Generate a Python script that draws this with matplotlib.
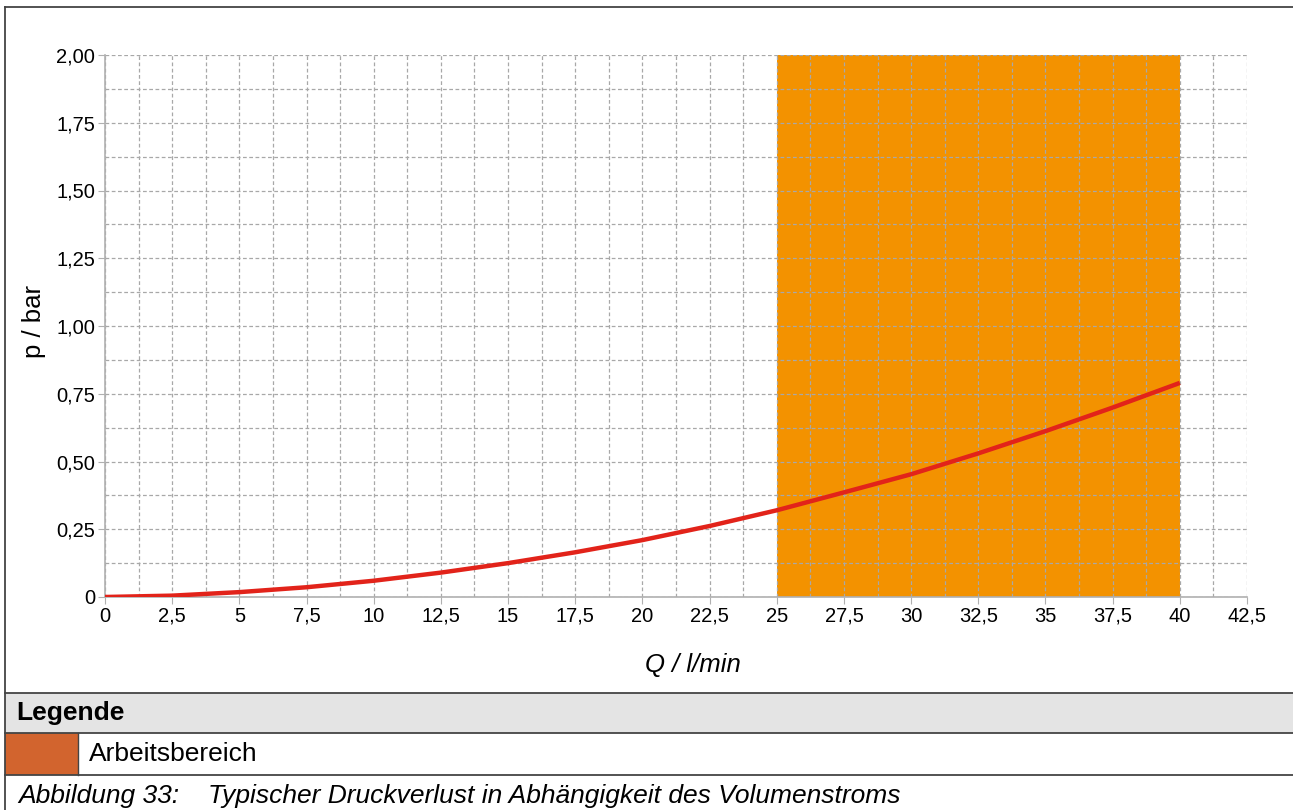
import matplotlib.pyplot as plt
import numpy as np
from matplotlib.patches import Rectangle
from matplotlib.lines import Line2D
from matplotlib.ticker import MultipleLocator, FixedLocator

plt.rcParams['font.family'] = ['Liberation Sans', 'DejaVu Sans']

###### Druckverlust-Kennlinie ######
Q = [0, 2.5, 5, 7.5, 10, 12.5, 15, 17.5, 20, 22.5, 25, 27.5, 30, 32.5, 35, 37.5, 40]
p = [0, 0.005, 0.018, 0.036, 0.06, 0.09, 0.125, 0.165, 0.21, 0.262, 0.32, 0.386,
     0.453, 0.53, 0.612, 0.699, 0.79]
arbeitsbereich = (25, 40)
xticks = [0, 2.5, 5, 7.5, 10, 12.5, 15, 17.5, 20, 22.5, 25, 27.5, 30, 32.5, 35, 37.5, 40, 42.5]
yticks = [0, 0.25, 0.5, 0.75, 1.0, 1.25, 1.5, 1.75, 2.0]

W, H = 1293, 810
fig = plt.figure(figsize=(W / 100, H / 100), dpi=100)

def fx(x):
    return x / W

def fy(y):
    return 1 - y / H

ax = fig.add_axes([fx(105), fy(597), fx(1247 - 105), (597 - 55) / H])

ax.axvspan(*arbeitsbereich, color='#F39200', lw=0, zorder=1)
ax.plot(Q, p, color='#E2231A', lw=3.2, zorder=3, solid_capstyle='butt')

ax.set_xlim(0, 42.5)
ax.set_ylim(0, 2.0)
ax.xaxis.set_major_locator(FixedLocator(xticks))
ax.yaxis.set_major_locator(FixedLocator(yticks))
ax.xaxis.set_minor_locator(MultipleLocator(1.25))
ax.yaxis.set_minor_locator(MultipleLocator(0.125))
ax.set_xticklabels([('%g' % v).replace('.', ',') for v in xticks])
ax.set_yticklabels(['0' if v == 0 else ('%.2f' % v).replace('.', ',') for v in yticks])

ax.set_axisbelow('line')
ax.grid(which='both', color='#a8a8a8', lw=0.9, linestyle=(0, (3, 2)))
for s in ['top', 'right']:
    ax.spines[s].set_visible(False)
for s in ['left', 'bottom']:
    ax.spines[s].set_color('#b0b0b0')
    ax.spines[s].set_linewidth(1.2)
ax.tick_params(which='major', length=5, color='#b0b0b0', labelsize=14.5, pad=2)
ax.tick_params(which='minor', length=0)

fig.text(fx(34), fy(322), 'p / bar', rotation=90, ha='center', va='center', fontsize=18.5)
fig.text(fx(693), fy(665), 'Q / l/min', style='italic', ha='center', va='center', fontsize=18.5)

###### Rahmen, Legende, Bildunterschrift ######
fig.add_artist(Rectangle((fx(5), fy(733)), 1, (733 - 693) / H, transform=fig.transFigure,
                         facecolor='#E4E4E4', edgecolor='none'))
fig.add_artist(Rectangle((fx(5), fy(775)), fx(78 - 5), (775 - 733) / H, transform=fig.transFigure,
                         facecolor='#D2642E', edgecolor='none'))
for y in [7, 693, 733, 775]:
    fig.add_artist(Line2D([fx(5), 1], [fy(y), fy(y)], transform=fig.transFigure,
                          color='#444444', lw=1.3))
fig.add_artist(Line2D([fx(5), fx(5)], [fy(7), 0], transform=fig.transFigure, color='#444444', lw=1.3))
fig.add_artist(Line2D([fx(78), fx(78)], [fy(733), fy(775)], transform=fig.transFigure,
                      color='#444444', lw=1.0))

fig.text(fx(16), fy(713), 'Legende', weight='bold', ha='left', va='center', fontsize=19)
fig.text(fx(89), fy(754), 'Arbeitsbereich', ha='left', va='center', fontsize=19)
fig.text(fx(18), fy(796), 'Abbildung 33:', style='italic', ha='left', va='center', fontsize=19)
fig.text(fx(208), fy(796), 'Typischer Druckverlust in Abhängigkeit des Volumenstroms',
         style='italic', ha='left', va='center', fontsize=19)

fig.savefig('out.png', dpi=100)
